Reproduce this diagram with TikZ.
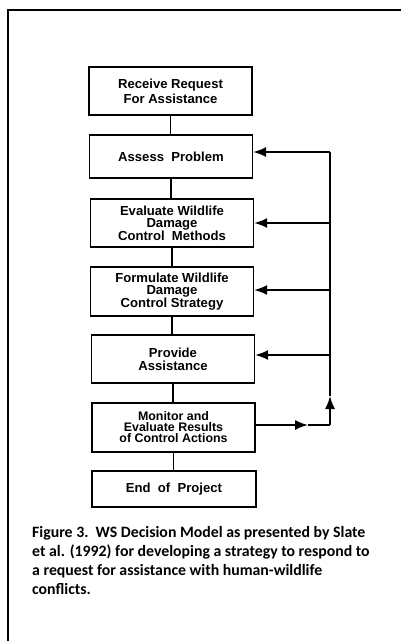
\documentclass[tikz,border=0pt]{standalone}
\usepackage{fontspec}
\setmainfont{Liberation Sans}
\newfontfamily\capfont{Carlito}
\usetikzlibrary{arrows.meta}
\begin{document}
\begin{tikzpicture}[x=1pt,y=-1pt,
  stepbox/.style={draw, line width=1.4pt, inner sep=0pt, align=center, minimum width=163pt},
  conn/.style={line width=1.6pt},
  arr/.style={line width=1.6pt, -{Latex[length=13pt,width=10pt]}},
  bfont/.style={font=\bfseries\fontsize{13.1}{#1}\selectfont}]
\useasboundingbox (0,0) rectangle (401,641);
\fill[white] (0,0) rectangle (401,641);
% frame
\draw[line width=2pt] (401,9.5) -- (8,9.5) -- (8,641);
% boxes
\node[stepbox, bfont=15, minimum height=48pt] (b1) at (170.5,91) {Receive Request\\For Assistance};
\node[stepbox, bfont=13, minimum height=43pt] (b2) at (171,156.5) {Assess\ \ Problem};
\node[stepbox, bfont=12.5, minimum height=48pt] (b3) at (172,223) {Evaluate Wildlife\\Damage\\Control\ \ Methods};
\node[stepbox, bfont=12, minimum height=49pt] (b4) at (172,291.5) {Formulate Wildlife\\Damage\\Control Strategy};
\node[stepbox, bfont=13, minimum height=48pt] (b5) at (173,359) {Provide\\Assistance};
\node[stepbox, font=\bfseries\fontsize{12.4}{11}\selectfont, minimum height=49pt] (b6) at (173.5,427.5) {Monitor and\\Evaluate Results\\of Control Actions};
\node[stepbox, bfont=13, minimum height=36pt, minimum width=164pt] (b7) at (174,489) {End\ \ of\ \ Project};
% vertical connectors
\draw[conn] (b1.south) -- (b1.south |- b2.north);
\draw[conn] (b2.south) -- (b2.south |- b3.north);
\draw[conn] (b3.south) -- (b3.south |- b4.north);
\draw[conn] (b4.south) -- (b4.south |- b5.north);
\draw[conn] (b5.south) -- (b5.south |- b6.north);
\draw[conn] (b6.south) -- (b6.south |- b7.north);
% feedback loop
\coordinate (top) at (330,152);
\coordinate (c3) at (330,223);
\coordinate (c4) at (330,290);
\coordinate (c5) at (330,355);
\coordinate (mup) at (330,396);
\coordinate (corner) at (330,425);
\coordinate (mright) at (308,425);
\draw[arr] (b6.east |- corner) -- (mright);
\draw[conn] (mright) -- (corner);
\draw[arr] (corner) -- (mup);
\draw[conn] (mup) -- (top);
\draw[arr] (top) -- (b2.east |- top);
\draw[arr] (c3) -- (b3.east |- c3);
\draw[arr] (c4) -- (b4.east |- c4);
\draw[arr] (c5) -- (b5.east |- c5);
% caption
\node[anchor=north west, inner sep=0pt, align=left,
  font=\capfont\bfseries\fontsize{15.8}{19}\selectfont] (cap) at (32,526)
  {Figure 3.\ \ WS Decision Model as presented by Slate\\
   et al. (1992) for developing a strategy to respond to\\
   a request for assistance with human-wildlife\\
   conflicts.};
\end{tikzpicture}
\end{document}
